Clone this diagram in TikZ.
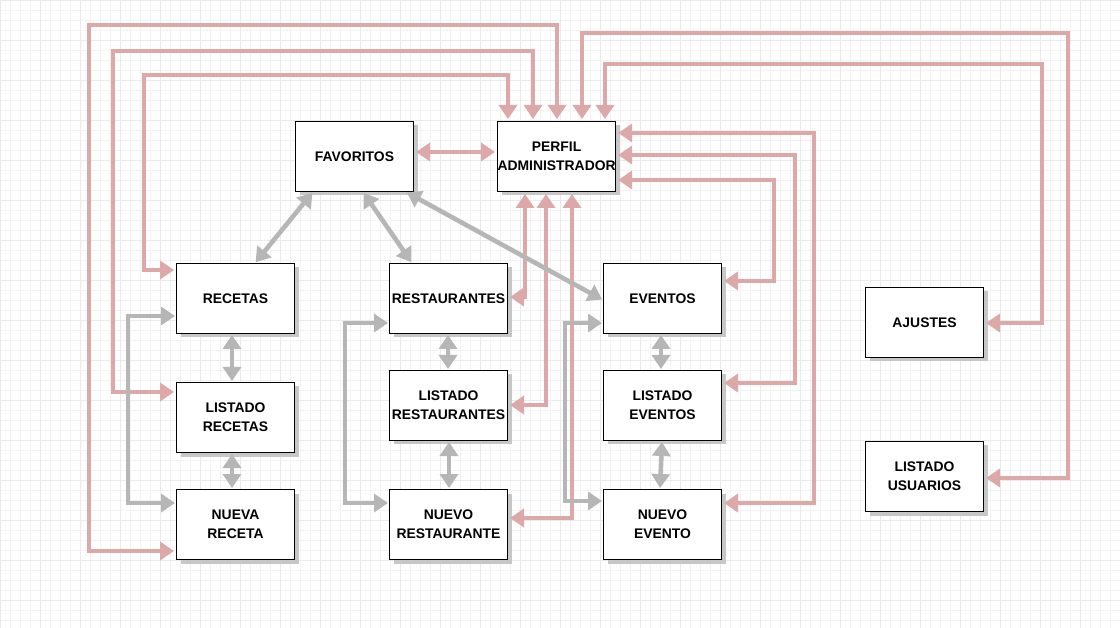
\documentclass[tikz,border=0pt]{standalone}
\usepackage{fontspec}
\setmainfont{Liberation Sans}
\usetikzlibrary{arrows.meta,shadows}
\definecolor{redc}{RGB}{220,168,168}
\definecolor{grayc}{RGB}{182,182,182}
\definecolor{gridminor}{RGB}{243,243,243}
\definecolor{gridmajor}{RGB}{234,234,234}
\begin{document}
\begin{tikzpicture}[x=1pt,y=-1pt,
  box/.style={draw=black, line width=1pt, fill=white, minimum width=118pt, minimum height=70pt,
    inner sep=0pt, anchor=north west, align=center,
    font=\bfseries\fontsize{13.9}{19}\selectfont,
    drop shadow={shadow xshift=4pt, shadow yshift=-4pt, fill=black!22, opacity=1}},
  tip/.tip={Triangle[length=14pt,width=18pt]},
  rl/.style={draw=redc, line width=3.8pt, {tip}-{tip}, shorten <=2pt, shorten >=2pt},
  gl/.style={draw=grayc, line width=4.6pt, {tip}-{tip}, shorten <=1pt, shorten >=1pt}]
\useasboundingbox (0,0) rectangle (1120,628);
\fill[white] (0,0) rectangle (1120,628);
\foreach \i in {0,10,...,1120} \draw[gridminor, line width=0.6pt] (\i,0) -- (\i,628);
\foreach \j in {0,10,...,620} \draw[gridminor, line width=0.6pt] (0,\j) -- (1120,\j);
\foreach \i in {0,40,...,1120} \draw[gridmajor, line width=0.6pt] (\i,0) -- (\i,628);
\foreach \j in {0,40,...,620} \draw[gridmajor, line width=0.6pt] (0,\j) -- (1120,\j);

% nodes
\node[box] (fav) at (295,121) {FAVORITOS};
\node[box] (perfil) at (497,121) {PERFIL\\ADMINISTRADOR};
\node[box] (recetas) at (176,263) {RECETAS};
\node[box] (lrecetas) at (176,382) {LISTADO\\RECETAS};
\node[box] (nreceta) at (176,489) {NUEVA\\RECETA};
\node[box] (rest) at (389,263) {RESTAURANTES};
\node[box] (lrest) at (389,370) {LISTADO\\RESTAURANTES};
\node[box] (nrest) at (389,489) {NUEVO\\RESTAURANTE};
\node[box] (eventos) at (603,263) {EVENTOS};
\node[box] (leventos) at (603,370) {LISTADO\\EVENTOS};
\node[box] (nevento) at (603,489) {NUEVO\\EVENTO};
\node[box] (ajustes) at (865,287) {AJUSTES};
\node[box] (lusuarios) at (865,441) {LISTADO\\USUARIOS};

% red connectors
\draw[rl] (557,0 |- perfil.north) |- (89,25) |- (nreceta.west |- 0,551);
\draw[rl] (533,0 |- perfil.north) |- (113,51) |- (lrecetas.west |- 0,392);
\draw[rl] (508,0 |- perfil.north) |- (144,75) |- (recetas.west |- 0,270);
\draw[rl] (582,0 |- perfil.north) |- (1068,33) |- (lusuarios.east |- 0,478);
\draw[rl] (605,0 |- perfil.north) |- (1042,64) |- (ajustes.east |- 0,323);
\draw[rl] (perfil.east |- 0,133) -| (814,503) -- (nevento.east |- 0,503);
\draw[rl] (perfil.east |- 0,155) -| (795,383) -- (leventos.east |- 0,383);
\draw[rl] (perfil.east |- 0,180) -| (774,281) -- (eventos.east |- 0,281);
\draw[rl] (525,0 |- perfil.south) |- (rest.east |- 0,297);
\draw[rl] (546,0 |- perfil.south) |- (lrest.east |- 0,405);
\draw[rl] (572,0 |- perfil.south) |- (nrest.east |- 0,518);
\draw[rl] (fav.east |- 0,152) -- (perfil.west |- 0,152);

% gray connectors
\draw[gl] (313,0 |- fav.south) -- (255,0 |- recetas.north);
\draw[gl] (363,0 |- fav.south) -- (412,0 |- rest.north);
\draw[gl] (406,0 |- fav.south) -- (eventos.west |- 0,300);
\draw[gl] (232,0 |- recetas.south) -- (232,0 |- lrecetas.north);
\draw[gl] (232,0 |- lrecetas.south) -- (232,0 |- nreceta.north);
\draw[gl] (448,0 |- rest.south) -- (448,0 |- lrest.north);
\draw[gl] (449,0 |- lrest.south) -- (449,0 |- nrest.north);
\draw[gl] (661,0 |- eventos.south) -- (661,0 |- leventos.north);
\draw[gl] (662,0 |- leventos.south) -- (660,0 |- nevento.north);
\draw[gl] (recetas.west |- 0,316) -| (128,503) -- (nreceta.west |- 0,503);
\draw[gl] (rest.west |- 0,323) -| (345,503) -- (nrest.west |- 0,503);
\draw[gl] (eventos.west |- 0,323) -| (565,501) -- (nevento.west |- 0,501);
\end{tikzpicture}
\end{document}
